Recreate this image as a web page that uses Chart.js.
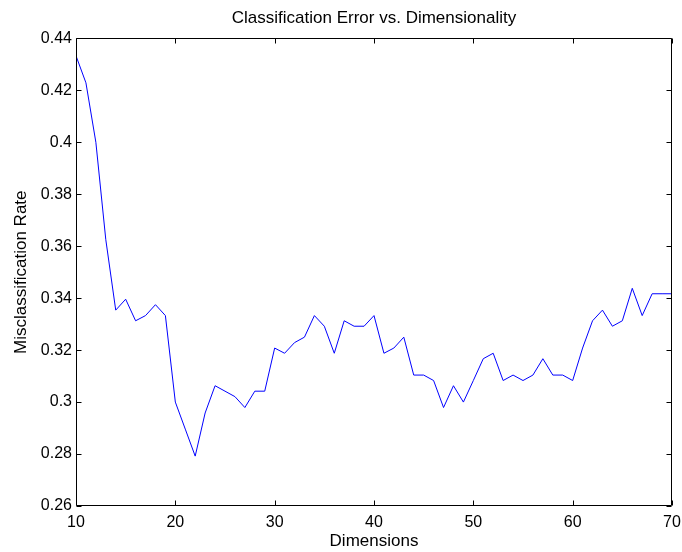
<!DOCTYPE html>
<html>
<head>
<meta charset="utf-8">
<title>Classification Error vs. Dimensionality</title>
<script src="https://cdn.jsdelivr.net/npm/chart.js@4/dist/chart.umd.min.js"></script>
<style>
    html, body { margin: 0; padding: 0; background: #fff; }
    canvas { display: block; }
</style>
</head>
<body>
<canvas id="errorChart" width="682" height="552"></canvas>
<script>
// Number of retained dimensions
const dims = [
    10, 11, 12, 13, 14, 15, 16, 17, 18, 19,
    20, 21, 22, 23, 24, 25, 26, 27, 28, 29,
    30, 31, 32, 33, 34, 35, 36, 37, 38, 39,
    40, 41, 42, 43, 44, 45, 46, 47, 48, 49,
    50, 51, 52, 53, 54, 55, 56, 57, 58, 59,
    60, 61, 62, 63, 64, 65, 66, 67, 68, 69, 70
];

// Misclassification rate for each dimension count
const errorRate = [
    0.4333, 0.4229, 0.4000, 0.3625, 0.3354, 0.3396, 0.3313, 0.3333, 0.3375, 0.3333,
    0.3000, 0.2896, 0.2792, 0.2958, 0.3063, 0.3042, 0.3021, 0.2979, 0.3042, 0.3042,
    0.3208, 0.3188, 0.3229, 0.3250, 0.3333, 0.3292, 0.3188, 0.3313, 0.3292, 0.3292,
    0.3333, 0.3188, 0.3208, 0.3250, 0.3104, 0.3104, 0.3083, 0.2979, 0.3063, 0.3000,
    0.3083, 0.3167, 0.3188, 0.3083, 0.3104, 0.3083, 0.3104, 0.3167, 0.3104, 0.3104,
    0.3083, 0.3208, 0.3313, 0.3354, 0.3292, 0.3313, 0.3438, 0.3333, 0.3417, 0.3417, 0.3417
];

// Axis limits and tick spacing
const xRange = [10, 70];
const xStep = 10;
const yRange = [0.26, 0.44];
const yStep = 0.02;

const FONT = "'Liberation Sans', Arial, Helvetica, sans-serif";

// Box around the plot with inward tick marks on all four sides
const boxFrame = {
    id: 'boxFrame',
    afterDatasetsDraw(chart) {
        const { ctx, chartArea: a, scales: { x, y } } = chart;
        const L = Math.round(a.left) + 0.5;
        const R = Math.round(a.right) - 0.5;
        const T = Math.round(a.top) + 0.5;
        const B = Math.round(a.bottom) - 0.5;
        const len = 5;

        ctx.save();
        ctx.strokeStyle = '#000';
        ctx.lineWidth = 1;
        ctx.beginPath();
        ctx.rect(L, T, R - L, B - T);

        x.ticks.forEach(t => {
            const px = Math.round(x.getPixelForValue(t.value)) + 0.5;
            ctx.moveTo(px, B); ctx.lineTo(px, B - len);
            ctx.moveTo(px, T); ctx.lineTo(px, T + len);
        });
        y.ticks.forEach(t => {
            const py = Math.round(y.getPixelForValue(t.value)) + 0.5;
            ctx.moveTo(L, py); ctx.lineTo(L + len, py);
            ctx.moveTo(R, py); ctx.lineTo(R - len, py);
        });
        ctx.stroke();
        ctx.restore();
    }
};

const points = dims.map((d, i) => ({ x: d, y: errorRate[i] }));

new Chart(document.getElementById('errorChart'), {
    type: 'line',
    data: {
        datasets: [{
            data: points,
            borderColor: '#0000ff',
            borderWidth: 1,
            pointRadius: 0,
            tension: 0,
            fill: false
        }]
    },
    options: {
        responsive: false,
        animation: false,
        layout: { padding: { left: 0, right: 10, top: 0, bottom: 0 } },
        plugins: {
            legend: { display: false },
            tooltip: { enabled: false },
            title: {
                display: true,
                fullSize: false,   // centre over the plot box, not the canvas
                text: 'Classification Error vs. Dimensionality',
                color: '#000',
                font: { family: FONT, size: 17, weight: 'normal' },
                padding: { top: 8, bottom: 10 }
            }
        },
        scales: {
            x: {
                type: 'linear',
                min: xRange[0],
                max: xRange[1],
                grid: { display: false, drawTicks: false },
                border: { display: false },
                ticks: {
                    stepSize: xStep,
                    color: '#000',
                    padding: 7,
                    maxRotation: 0,
                    font: { family: FONT, size: 16 }
                },
                title: {
                    display: true,
                    text: 'Dimensions',
                    color: '#000',
                    font: { family: FONT, size: 17 },
                    padding: { top: 0, bottom: 0 }
                },
                afterFit(scale) {
                    scale.height = 46;
                    scale.paddingLeft = 0;
                    scale.paddingRight = 0;
                }
            },
            y: {
                min: yRange[0],
                max: yRange[1],
                grid: { display: false, drawTicks: false },
                border: { display: false },
                ticks: {
                    stepSize: yStep,
                    color: '#000',
                    padding: 4,
                    font: { family: FONT, size: 16 },
                    callback: v => String(+v.toFixed(2))
                },
                title: {
                    display: true,
                    text: 'Misclassification Rate',
                    color: '#000',
                    font: { family: FONT, size: 17 },
                    padding: { top: 11, bottom: 0 }
                },
                afterFit(scale) {
                    scale.width = 76;
                    scale.paddingTop = 0;
                    scale.paddingBottom = 0;
                }
            }
        }
    },
    plugins: [boxFrame]
});
</script>
</body>
</html>
